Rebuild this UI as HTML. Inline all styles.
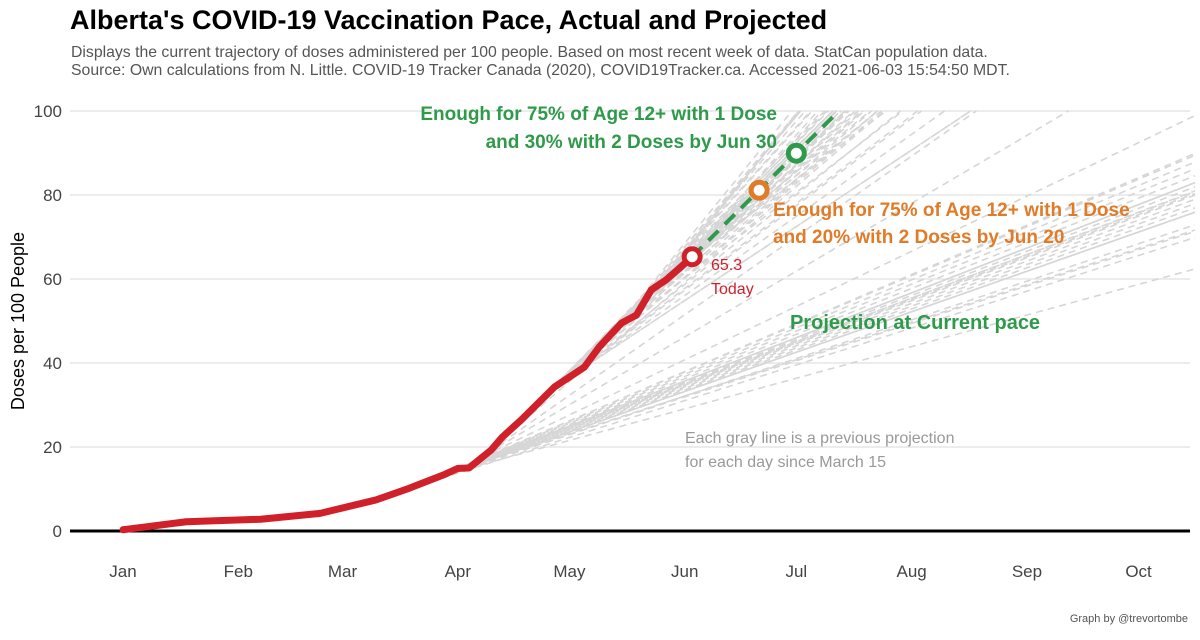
<!DOCTYPE html>
<html><head><meta charset="utf-8">
<style>
html,body{margin:0;padding:0;background:#fff;}
body{width:1200px;height:635px;overflow:hidden;font-family:"Liberation Sans",Arial,sans-serif;}
</style></head>
<body>
<svg id="chart" width="1200" height="635" xmlns="http://www.w3.org/2000/svg" font-family="Liberation Sans, Arial, sans-serif">
<text x="70" y="29" font-size="27" font-weight="bold" fill="#000">Alberta's COVID-19 Vaccination Pace, Actual and Projected</text>
<text x="71" y="57" font-size="15.8" fill="#555">Displays the current trajectory of doses administered per 100 people. Based on most recent week of data. StatCan population data.</text>
<text x="71" y="75" font-size="15.8" fill="#555">Source: Own calculations from N. Little. COVID-19 Tracker Canada (2020), COVID19Tracker.ca. Accessed 2021-06-03 15:54:50 MDT.</text>
<text transform="translate(24,321) rotate(-90)" text-anchor="middle" font-size="18" fill="#000">Doses per 100 People</text>
<g id="grid"></g>
<g id="gray"></g>
<g id="series"></g>
<g id="labels"></g>
<text text-anchor="end" font-size="19" font-weight="bold" fill="#2e9a4a"><tspan x="777" y="120">Enough for 75% of Age 12+ with 1 Dose</tspan><tspan x="777" y="148">and 30% with 2 Doses by Jun 30</tspan></text>
<text font-size="19" font-weight="bold" fill="#e07b28"><tspan x="773" y="216">Enough for 75% of Age 12+ with 1 Dose</tspan><tspan x="773" y="243">and 20% with 2 Doses by Jun 20</tspan></text>
<text x="790" y="329" font-size="20" font-weight="bold" fill="#2e9a4a">Projection at Current pace</text>
<text font-size="16" fill="#d0202a"><tspan x="711" y="270">65.3</tspan><tspan x="711" y="294">Today</tspan></text>
<text font-size="16" fill="#999"><tspan x="685" y="443">Each gray line is a previous projection</tspan><tspan x="685" y="467">for each day since March 15</tspan></text>
<text x="1188" y="622" text-anchor="end" font-size="11" fill="#555">Graph by @trevortombe</text>
</svg>
<script>
const actualDays = [0,17,37,53,68,77,86,90,93,99,102,107,116,124,128,134,138,142,146,150,153];
const actualValues = [0.3,2.2,2.8,4.2,7.4,10.2,13.3,14.9,15.0,19.3,22.4,26.4,34.3,39.0,43.8,49.5,51.4,57.4,59.8,62.9,65.3];
const currentPace = 0.88;
const targetDays = [171,181];
const yTicks = [0,20,40,60,80,100];
const monthLabels = ["Jan","Feb","Mar","Apr","May","Jun","Jul","Aug","Sep","Oct"];
const monthDays = [0,31,59,90,120,151,181,212,243,273];
const projStartDay = 73;

const NS="http://www.w3.org/2000/svg";
const X = d => 123 + d*3.72;
const Y = v => 531 - v*4.2;
const maxDay = (1195-123)/3.72;
function mk(tag, attrs, parent){const e=document.createElementNS(NS,tag);for(const k in attrs)e.setAttribute(k,attrs[k]);parent.appendChild(e);return e;}
function interp(d){
  for(let i=1;i<actualDays.length;i++){
    if(d<=actualDays[i]){const t=(d-actualDays[i-1])/(actualDays[i]-actualDays[i-1]);return actualValues[i-1]+t*(actualValues[i]-actualValues[i-1]);}
  }
  return actualValues[actualValues.length-1];
}
const grid=document.getElementById('grid'), gray=document.getElementById('gray'), series=document.getElementById('series'), labels=document.getElementById('labels');
yTicks.forEach(v=>{
  if(v>0){const l=mk('line',{x1:70,x2:1190,y1:Y(v),y2:Y(v),stroke:'#e6e6e6','stroke-width':1.5},grid);
  
  }
  const t=mk('text',{x:62,y:Y(v)+6,'text-anchor':'end','font-size':17,fill:'#444'},labels);
  
  
  t.textContent=v;
});
monthLabels.forEach((m,i)=>{
  const t=mk('text',{x:X(monthDays[i]),y:577,'text-anchor':'middle','font-size':17,fill:'#444'},labels);
  
  
  t.textContent=m;
});
const last=actualDays[actualDays.length-1];
for(let d=projStartDay; d<last; d++){
  const v0=interp(d), s=(v0-interp(d-7))/7;
  let d1=Math.min(maxDay, d+(100-v0)/s);
  const l=mk('line',{x1:X(d),y1:Y(v0),x2:X(d1),y2:Y(v0+s*(d1-d)),stroke:'#d6d6d6','stroke-width':1.6,'stroke-dasharray':'7 5'},gray);
  
  
}
const zl=mk('line',{x1:70,x2:1190,y1:Y(0),y2:Y(0),stroke:'#000','stroke-width':3},series);


const todayV=actualValues[actualValues.length-1];
const dEnd=last+(100-todayV)/currentPace;
const pl=mk('line',{x1:X(last),y1:Y(todayV),x2:X(dEnd),y2:Y(100),stroke:'#2e9a4a','stroke-width':4,'stroke-dasharray':'14 9'},series);


const pts=actualDays.map((d,i)=>X(d)+','+Y(actualValues[i])).join(' ');
const al=mk('polyline',{points:pts,fill:'none',stroke:'#d0202a','stroke-width':7,'stroke-linejoin':'round','stroke-linecap':'round'},series);


const tm=mk('circle',{cx:X(last),cy:Y(todayV),r:8,fill:'#fff',stroke:'#d0202a','stroke-width':5},series);


const cols=['#e07b28','#2e9a4a'];
targetDays.forEach((d,i)=>{
  const c=mk('circle',{cx:X(d),cy:Y(todayV+currentPace*(d-last)),r:8,fill:'#fff',stroke:cols[i],'stroke-width':5},series);
  
  
});
</script>
</body></html>
